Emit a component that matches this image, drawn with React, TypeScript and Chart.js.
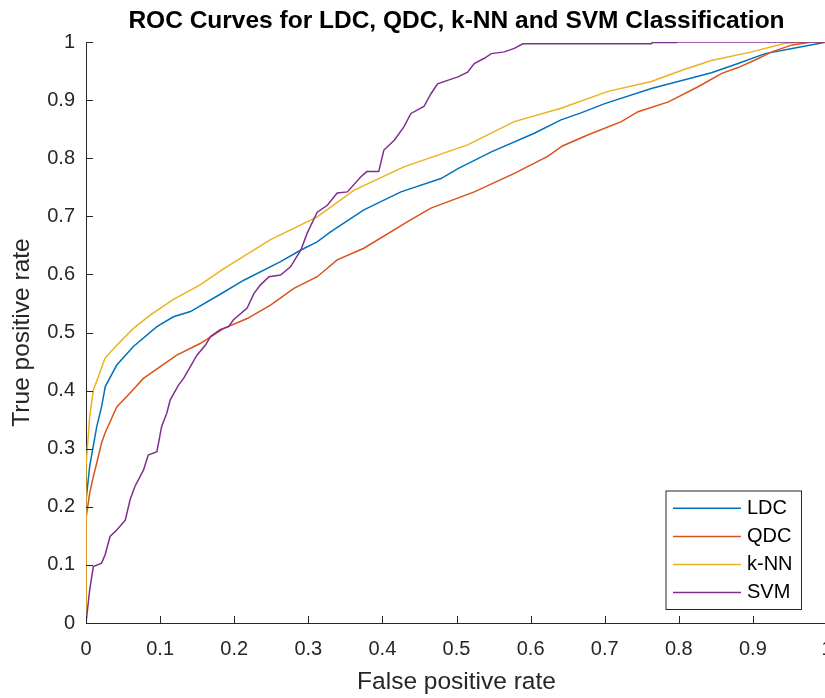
import React, { useEffect, useRef } from 'react';
import { Chart, registerables } from 'chart.js';

Chart.register(...registerables);

// ---- data ----
const seriesNames = ['LDC', 'QDC', 'k-NN', 'SVM'];
const seriesColors = ['#0072BD', '#D95319', '#EDB120', '#7E2F8E'];

const ldcFpr = [0, 0, 0.005, 0.0145, 0.021, 0.026, 0.0415, 0.064, 0.0957, 0.118, 0.141, 0.18, 0.213, 0.2625, 0.29, 0.312, 0.33, 0.375, 0.425, 0.479, 0.502, 0.547, 0.605, 0.641, 0.668, 0.7, 0.763, 0.844, 0.88, 0.9165, 0.953, 1];
const ldcTpr = [0, 0.21, 0.27, 0.338, 0.372, 0.407, 0.444, 0.476, 0.51, 0.527, 0.536, 0.565, 0.59, 0.622, 0.642, 0.656, 0.673, 0.711, 0.742, 0.765, 0.782, 0.811, 0.843, 0.866, 0.878, 0.894, 0.92, 0.947, 0.963, 0.98, 0.989, 1];

const qdcFpr = [0, 0, 0.005, 0.0099, 0.0144, 0.021, 0.0257, 0.0415, 0.0595, 0.0775, 0.1225, 0.154, 0.186, 0.2175, 0.249, 0.2805, 0.312, 0.339, 0.375, 0.434, 0.4655, 0.524, 0.578, 0.623, 0.643, 0.677, 0.7225, 0.745, 0.786, 0.826, 0.858, 0.88, 0.903, 0.9255, 0.953, 0.98, 1];
const qdcTpr = [0, 0.18, 0.224, 0.252, 0.275, 0.31, 0.327, 0.372, 0.396, 0.421, 0.461, 0.481, 0.507, 0.524, 0.547, 0.576, 0.596, 0.625, 0.645, 0.691, 0.714, 0.742, 0.774, 0.803, 0.821, 0.84, 0.863, 0.88, 0.897, 0.923, 0.946, 0.956, 0.969, 0.983, 0.995, 1, 1];

const knnFpr = [0, 0, 0.005, 0.0099, 0.0167, 0.0257, 0.0415, 0.064, 0.0866, 0.118, 0.154, 0.186, 0.249, 0.312, 0.362, 0.429, 0.515, 0.578, 0.641, 0.7045, 0.763, 0.808, 0.844, 0.8985, 0.9435, 0.97, 1];
const knnTpr = [0, 0.27, 0.355, 0.401, 0.424, 0.456, 0.478, 0.507, 0.53, 0.557, 0.582, 0.61, 0.66, 0.699, 0.745, 0.785, 0.823, 0.863, 0.886, 0.915, 0.932, 0.953, 0.968, 0.983, 0.998, 1, 1];

const svmFpr = [0, 0.005, 0.0099, 0.021, 0.0257, 0.0325, 0.0415, 0.053, 0.0595, 0.066, 0.0775, 0.084, 0.0957, 0.102, 0.109, 0.1137, 0.125, 0.1317, 0.1497, 0.161, 0.168, 0.181, 0.1925, 0.199, 0.2175, 0.2265, 0.2355, 0.247, 0.2625, 0.276, 0.29, 0.2985, 0.312, 0.3257, 0.339, 0.3527, 0.371, 0.379, 0.395, 0.402, 0.416, 0.429, 0.4385, 0.456, 0.4655, 0.4745, 0.488, 0.502, 0.515, 0.524, 0.5375, 0.547, 0.5645, 0.578, 0.5895, 0.763, 0.764, 0.797, 0.798, 1];
const svmTpr = [0, 0.057, 0.097, 0.103, 0.117, 0.149, 0.16, 0.177, 0.212, 0.235, 0.263, 0.289, 0.295, 0.338, 0.361, 0.384, 0.41, 0.421, 0.461, 0.478, 0.493, 0.505, 0.51, 0.522, 0.542, 0.567, 0.582, 0.596, 0.599, 0.613, 0.642, 0.671, 0.707, 0.719, 0.74, 0.742, 0.768, 0.777, 0.777, 0.814, 0.831, 0.854, 0.877, 0.889, 0.911, 0.928, 0.934, 0.94, 0.948, 0.963, 0.972, 0.98, 0.983, 0.989, 0.997, 0.997, 0.999, 0.999, 1, 1];

const xTicks = [0, 0.1, 0.2, 0.3, 0.4, 0.5, 0.6, 0.7, 0.8, 0.9, 1];
const xTickLabels = ['0', '0.1', '0.2', '0.3', '0.4', '0.5', '0.6', '0.7', '0.8', '0.9', '1'];
const yTicks = [0, 0.1, 0.2, 0.3, 0.4, 0.5, 0.6, 0.7, 0.8, 0.9, 1];
const yTickLabels = ['0', '0.1', '0.2', '0.3', '0.4', '0.5', '0.6', '0.7', '0.8', '0.9', '1'];

const titleText = 'ROC Curves for LDC, QDC, k-NN and SVM Classification';
const xTitle = 'False positive rate';
const yTitle = 'True positive rate';

// ---- styles ----
const FONT = '"Liberation Sans", Arial, Helvetica, sans-serif';
const AXIS = '#262626';

const toPoints = (xs: number[], ys: number[]) => xs.map((x, i) => ({ x, y: ys[i] }));

const inwardTicks = {
  id: 'inwardTicks',
  afterDatasetsDraw(chart: any) {
    const { ctx, chartArea, scales } = chart;
    ctx.save();
    ctx.strokeStyle = AXIS;
    ctx.lineWidth = 1;
    ctx.beginPath();
    xTicks.forEach((v) => {
      const px = Math.round(scales.x.getPixelForValue(v)) + 0.5;
      ctx.moveTo(px, chartArea.bottom);
      ctx.lineTo(px, chartArea.bottom - 7);
    });
    yTicks.forEach((v) => {
      const py = Math.round(scales.y.getPixelForValue(v)) + 0.5;
      ctx.moveTo(chartArea.left, py);
      ctx.lineTo(chartArea.left + 7, py);
    });
    ctx.stroke();
    ctx.restore();
  },
};

const boxLegend = {
  id: 'boxLegend',
  afterDraw(chart: any) {
    const { ctx, chartArea } = chart;
    const right = chartArea.right - 25.5;
    const bottom = chartArea.bottom - 13.5;
    const w = 135.5;
    const h = 118.5;
    const left = right - w;
    const top = bottom - h;
    ctx.save();
    ctx.fillStyle = '#ffffff';
    ctx.fillRect(left, top, w, h);
    ctx.strokeStyle = AXIS;
    ctx.lineWidth = 1;
    ctx.strokeRect(left, top, w, h);
    ctx.font = `20px ${FONT}`;
    ctx.textBaseline = 'middle';
    ctx.textAlign = 'left';
    chart.data.datasets.forEach((ds: any, i: number) => {
      const y = top + 17.3 + i * 28.1;
      ctx.strokeStyle = ds.borderColor;
      ctx.lineWidth = 1.5;
      ctx.beginPath();
      ctx.moveTo(left + 7, y);
      ctx.lineTo(left + 75, y);
      ctx.stroke();
      ctx.fillStyle = '#000000';
      ctx.fillText(ds.label, left + 81, y);
    });
    ctx.restore();
  },
};

export default function App() {
  const ref = useRef<HTMLCanvasElement>(null);

  useEffect(() => {
    if (!ref.current) return;
    const series = [
      toPoints(ldcFpr, ldcTpr),
      toPoints(qdcFpr, qdcTpr),
      toPoints(knnFpr, knnTpr),
      toPoints(svmFpr, svmTpr),
    ];
    const chart = new Chart(ref.current, {
      type: 'line',
      data: {
        datasets: series.map((data, i) => ({
          label: seriesNames[i],
          data,
          borderColor: seriesColors[i],
          backgroundColor: seriesColors[i],
          borderWidth: 1.5,
          pointRadius: 0,
          tension: 0,
          fill: false,
          order: 3 - i,
        })),
      },
      options: {
        responsive: false,
        animation: false,
        devicePixelRatio: 1,
        parsing: true,
        layout: { padding: { left: 0, right: 33, top: 0, bottom: 0 } },
        plugins: {
          legend: { display: false },
          tooltip: { enabled: false },
          title: {
            display: true,
            text: titleText,
            fullSize: false,
            color: '#000000',
            font: { family: FONT, size: 24.5, weight: 'bold' },
            padding: { top: 7, bottom: 5.6 },
          },
        },
        scales: {
          x: {
            type: 'linear',
            min: 0,
            max: 1,
            grid: { display: false, drawTicks: false },
            border: { display: true, color: AXIS, width: 1 },
            afterBuildTicks: (s: any) => {
              s.ticks = xTicks.map((v) => ({ value: v }));
            },
            afterFit: (s: any) => {
              s.height = 75;
            },
            ticks: {
              color: AXIS,
              font: { family: FONT, size: 20 },
              padding: 14,
              maxRotation: 0,
              autoSkip: false,
              callback: (_v: any, i: number) => xTickLabels[i],
            },
            title: {
              display: true,
              text: xTitle,
              color: AXIS,
              font: { family: FONT, size: 24.5 },
              padding: { top: 0, bottom: 1.4 },
            },
          },
          y: {
            type: 'linear',
            min: 0,
            max: 1,
            grid: { display: false, drawTicks: false },
            border: { display: true, color: AXIS, width: 1 },
            afterBuildTicks: (s: any) => {
              s.ticks = yTicks.map((v) => ({ value: v }));
            },
            afterFit: (s: any) => {
              s.width = 86;
            },
            ticks: {
              color: AXIS,
              font: { family: FONT, size: 20 },
              padding: 11,
              autoSkip: false,
              callback: (_v: any, i: number) => yTickLabels[i],
            },
            title: {
              display: true,
              text: yTitle,
              color: AXIS,
              font: { family: FONT, size: 24.5 },
              padding: { top: 8, bottom: 0 },
            },
          },
        },
      },
      plugins: [inwardTicks, boxLegend],
    });
    return () => chart.destroy();
  }, []);

  return (
    <div
      style={{
        position: 'fixed',
        left: 0,
        top: 0,
        width: 825,
        height: 698,
        overflow: 'hidden',
        background: '#ffffff',
      }}
    >
      <canvas ref={ref} width={860} height={698} style={{ display: 'block' }} />
    </div>
  );
}
